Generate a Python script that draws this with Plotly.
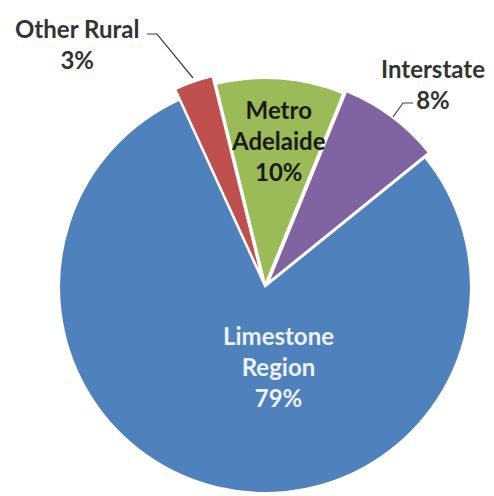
import plotly.graph_objects as go

regions = ["Limestone Region", "Other Rural", "Metro Adelaide", "Interstate"]
shares = [79, 3, 10, 8]
colors = ["#4F81BD", "#C0504D", "#9BBB59", "#8064A2"]
pulls = [0, 0.055, 0.015, 0.03]

W, H = 494, 496
OFF = 8  # page body margin
FONT = "Lato"


def px(x, y):
    # screen pixel position -> paper coords
    return (x - OFF) / W, 1 - (y - OFF) / H


def label_text(i):
    return "<br>".join(regions[i].split(" ", 1)) if i in (0, 2) else regions[i]


# pie centred at (265, 287) on screen
cx, cy = 265 - OFF, 287 - OFF
half = H - cy
fig = go.Figure(go.Pie(
    labels=regions,
    values=shares,
    sort=False,
    direction="clockwise",
    rotation=51,
    pull=pulls,
    marker=dict(colors=colors, line=dict(color="white", width=1.5)),
    textinfo="none",
    hoverinfo="label+percent",
    domain=dict(x=[(cx - half) / W, (cx + half) / W], y=[0, 2 * half / H]),
    showlegend=False,
))

# label positions (screen pixels), text colour
label_pos = [(278, 366, "#EEF3FA"), (77, 44, "#333333"), (278, 140, "#1A1A1A"), (433, 84, "#333333")]
for i, (x, y, c) in enumerate(label_pos):
    xx, yy = px(x, y)
    fig.add_annotation(
        x=xx, y=yy, xref="paper", yref="paper", showarrow=False,
        text=f"{label_text(i)}<br>{shares[i]}%",
        font=dict(family=FONT, size=24, color=c, weight="bold"),
        xanchor="center", yanchor="middle",
    )

# leader lines for the outside labels
leaders = [[(147, 34), (157, 34), (193, 78)], [(413, 103), (403, 103), (393, 117)]]
for pts in leaders:
    path = "M " + " L ".join(f"{px(x, y)[0]},{px(x, y)[1]}" for x, y in pts)
    fig.add_shape(type="path", path=path, xref="paper", yref="paper",
                  line=dict(color="#404040", width=1.2))

fig.update_layout(
    width=W, height=H,
    margin=dict(l=0, r=0, t=0, b=0),
    paper_bgcolor="white",
    plot_bgcolor="white",
)

fig.write_html("out.html")
